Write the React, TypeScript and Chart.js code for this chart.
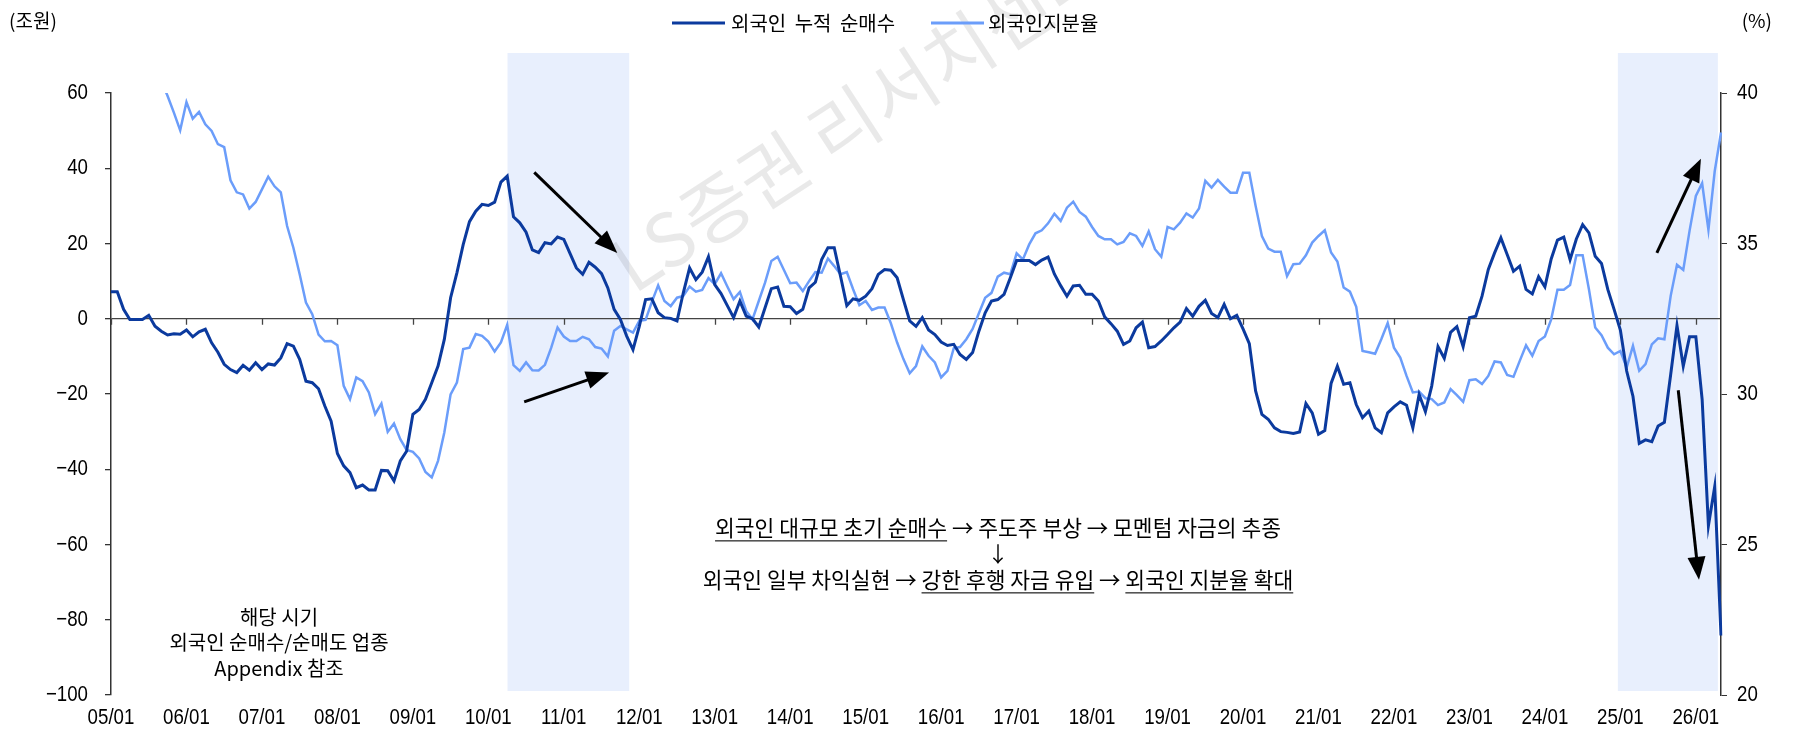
import React, { useEffect, useRef } from "react";
import { Chart, registerables } from "chart.js";

Chart.register(...registerables);

// ---------------- data ----------------
const START_YEAR = 2005;
const MONTH_COUNT = 257; // 2005/01 .. latest (partial) month
const months: string[] = [];
for (let i = 0; i < MONTH_COUNT; i++) {
  const y = START_YEAR + Math.floor(i / 12);
  const m = (i % 12) + 1;
  months.push(`${String(y % 100).padStart(2, "0")}/${String(m).padStart(2, "0")}`);
}

const xTickLabels = [
  "05/01", "06/01", "07/01", "08/01", "09/01", "10/01", "11/01", "12/01", "13/01", "14/01", "15/01",
  "16/01", "17/01", "18/01", "19/01", "20/01", "21/01", "22/01", "23/01", "24/01", "25/01", "26/01",
];

// 외국인 누적 순매수 (조원)
const foreignNetBuy = [
  7.2, 7.2, 2.5, -0.2, -0.2, -0.2, 0.9, -2.0, -3.3, -4.3, -4.0, -4.1,
  -3.0, -4.8, -3.5, -2.8, -6.4, -8.9, -12.1, -13.5, -14.3, -12.4, -13.7, -11.7,
  -13.5, -12.0, -12.3, -10.4, -6.6, -7.3, -10.8, -16.6, -17.0, -18.6, -23.2, -27.2,
  -35.8, -39.1, -40.9, -44.9, -44.2, -45.5, -45.5, -40.3, -40.4, -43.1, -37.8, -35.2,
  -25.4, -24.1, -21.4, -17.0, -12.6, -5.5, 5.6, 12.2, 19.7, 25.8, 28.6, 30.4,
  30.1, 31.0, 36.3, 37.9, 27.1, 25.5, 23.0, 18.3, 17.6, 20.2, 19.9, 21.7,
  21.1, 17.3, 13.5, 11.8, 15.0, 13.7, 12.0, 8.2, 2.5, -0.2, -4.6, -8.2,
  -2.0, 5.1, 5.3, 1.6, 0.3, 0.1, -0.6, 6.9, 13.5, 10.4, 12.4, 16.5,
  9.1, 6.7, 3.5, 0.3, 4.7, 0.7, 0.0, -2.2, 2.9, 8.0, 8.4, 3.3,
  3.2, 1.4, 2.5, 8.2, 9.7, 15.7, 18.9, 18.9, 11.3, 3.5, 5.3, 4.9,
  6.0, 8.0, 11.8, 13.1, 12.9, 10.9, 5.1, -0.6, -2.0, 0.3, -3.0, -4.2,
  -6.2, -7.1, -6.8, -9.5, -10.8, -9.0, -3.3, 1.6, 4.7, 5.1, 6.5, 10.9,
  15.5, 15.5, 15.5, 14.4, 15.6, 16.4, 11.9, 8.8, 6.0, 8.7, 8.9, 6.5,
  6.5, 4.7, 0.5, -1.3, -3.3, -6.8, -5.9, -2.4, -0.9, -7.7, -7.4, -5.9,
  -4.2, -2.4, -0.9, 2.7, 0.7, 3.3, 4.9, 1.4, 0.3, 3.8, 0.0, 0.9,
  -2.7, -6.6, -19.2, -25.4, -26.7, -29.0, -30.0, -30.2, -30.5, -30.1, -22.5, -25.0,
  -30.7, -29.7, -17.2, -12.6, -17.4, -17.0, -22.8, -26.3, -24.5, -29.0, -30.3, -25.0,
  -23.4, -22.1, -23.0, -29.0, -20.1, -24.7, -17.9, -7.4, -10.5, -3.6, -2.1, -7.4,
  0.3, 0.7, 6.0, 13.1, 17.5, 21.5, 17.1, 12.6, 14.0, 7.8, 6.6, 11.2,
  8.5, 15.9, 20.9, 21.7, 15.7, 21.2, 25.0, 22.8, 16.6, 14.7, 7.8, 2.5,
  -3.0, -13.9, -20.6, -33.1, -32.2, -32.7, -28.5, -27.5, -14.8, -1.8, -12.6, -4.8,
  -4.8, -21.4, -55.0, -44.6, -84.2,
];

// 외국인지분율 (%)
const foreignOwnership = [
  41.8, 41.6, 41.3, 41.5, 41.2, 41.0, 40.8, 40.7, 40.4, 39.9, 39.35, 38.76,
  39.7, 39.15, 39.37, 38.96, 38.74, 38.3, 38.2, 37.1, 36.7, 36.63, 36.16, 36.38,
  36.8, 37.22, 36.9, 36.7, 35.58, 34.86, 33.98, 33.04, 32.65, 31.97, 31.75, 31.76,
  31.62, 30.27, 29.83, 30.55, 30.43, 30.05, 29.33, 29.68, 28.74, 29.02, 28.5, 28.14,
  28.08, 27.86, 27.41, 27.23, 27.78, 28.72, 29.99, 30.38, 31.49, 31.54, 31.99, 31.93,
  31.74, 31.41, 31.71, 32.3, 30.96, 30.77, 31.05, 30.79, 30.78, 30.97, 31.54, 32.21,
  31.91, 31.76, 31.76, 31.9, 31.82, 31.56, 31.51, 31.25, 32.1, 32.26, 32.15, 32.04,
  32.43, 32.46, 33.06, 33.61, 33.09, 32.92, 33.2, 33.26, 33.57, 33.4, 33.46, 33.85,
  33.65, 34.01, 33.57, 33.15, 33.39, 32.76, 32.48, 33.09, 33.7, 34.42, 34.56, 34.12,
  33.68, 33.7, 33.42, 33.75, 34.05, 34.03, 34.5, 34.25, 33.98, 34.05, 33.48, 32.95,
  33.09, 32.79, 32.87, 32.87, 32.35, 31.71, 31.16, 30.69, 30.93, 31.58, 31.27, 31.05,
  30.55, 30.77, 31.52, 31.56, 31.82, 32.16, 32.68, 33.2, 33.36, 33.9, 34.03, 33.98,
  34.67, 34.47, 34.97, 35.34, 35.44, 35.67, 35.99, 35.75, 36.19, 36.39, 36.05, 35.89,
  35.55, 35.25, 35.14, 35.14, 34.97, 35.05, 35.34, 35.25, 34.92, 35.4, 34.81, 34.56,
  35.55, 35.47, 35.69, 36.0, 35.86, 36.16, 37.08, 36.86, 37.11, 36.89, 36.69, 36.69,
  37.35, 37.35, 36.25, 35.25, 34.83, 34.73, 34.73, 33.92, 34.31, 34.33, 34.61, 35.03,
  35.25, 35.44, 34.7, 34.4, 33.54, 33.4, 32.9, 31.43, 31.39, 31.34, 31.83, 32.36,
  31.54, 31.21, 30.6, 30.05, 30.08, 29.86, 29.83, 29.63, 29.72, 30.16, 29.96, 29.74,
  30.46, 30.49, 30.33, 30.6, 31.08, 31.05, 30.63, 30.57, 31.1, 31.62, 31.27, 31.76,
  31.91, 32.48, 33.46, 33.46, 33.62, 34.61, 34.61, 33.48, 32.21, 31.95, 31.54, 31.32,
  31.43, 30.88, 31.6, 30.77, 30.99, 31.65, 31.85, 31.82, 33.26, 34.29, 34.12, 35.42,
  36.58, 37.0, 35.45, 37.4, 38.69,
];

const leftAxis = { min: -100, max: 60, step: 20 };
const rightAxis = { min: 20, max: 40, step: 5 };

// shaded periods (month index on the category axis)
const shadePeriods = [
  { from: 63.05, to: 82.4 },
  { from: 239.6, to: 255.5 },
];

// arrows, in (month index, left-axis value)
const arrows = [
  { x1: 67.3, y1: 38.9, x2: 80.5, y2: 17.5 },
  { x1: 65.7, y1: -22.1, x2: 79.2, y2: -14.3 },
  { x1: 245.8, y1: 17.5, x2: 252.8, y2: 42.5 },
  { x1: 249.2, y1: -19.0, x2: 252.5, y2: -69.4 },
];

const seriesNames = ["외국인 누적 순매수", "외국인지분율"];
const leftUnit = "(조원)";
const rightUnit = "(%)";
const watermark = "LS증권 리서치센터";
const noteLines = ["해당 시기", "외국인 순매수/순매도 업종", "Appendix 참조"];
type Seg = { text: string; u?: boolean };
const flowLines: Seg[][] = [
  [{ text: "외국인 대규모 초기 순매수", u: true }, { text: " → 주도주 부상 → 모멘텀 자금의 추종" }],
  [{ text: "↓" }],
  [
    { text: "외국인 일부 차익실현 → " },
    { text: "강한 후행 자금 유입", u: true },
    { text: " → " },
    { text: "외국인 지분율 확대", u: true },
  ],
];

// ---------------- style ----------------
const W = 1801;
const H = 729;
const DARK = "#0b3a9e";
const LIGHT = "#6b9dfa";
const SHADE = "#e8effd";
const NUM_FONT = '22px "Liberation Sans", Arimo, Arial, sans-serif';
const NUM_SCALE_X = 0.85;
const KR_FONT = '"Noto Sans CJK KR", "Noto Sans", sans-serif';

function fmtNum(v: number) {
  return v < 0 ? `\u2212${Math.abs(v)}` : `${v}`;
}

function drawNarrow(ctx: CanvasRenderingContext2D, text: string, x: number, y: number, align: CanvasTextAlign) {
  ctx.save();
  ctx.translate(x, y);
  ctx.scale(NUM_SCALE_X, 1);
  ctx.textAlign = align;
  ctx.textBaseline = "middle";
  ctx.fillText(text, 0, 0);
  ctx.restore();
}

function drawArrow(ctx: CanvasRenderingContext2D, x1: number, y1: number, x2: number, y2: number) {
  const ang = Math.atan2(y2 - y1, x2 - x1);
  const headLen = 23;
  const half = 9;
  const bx = x2 - headLen * Math.cos(ang);
  const by = y2 - headLen * Math.sin(ang);
  ctx.strokeStyle = "#000";
  ctx.fillStyle = "#000";
  ctx.lineWidth = 3;
  ctx.beginPath();
  ctx.moveTo(x1, y1);
  ctx.lineTo(bx + 2 * Math.cos(ang), by + 2 * Math.sin(ang));
  ctx.stroke();
  ctx.beginPath();
  ctx.moveTo(x2, y2);
  ctx.lineTo(bx + half * Math.sin(ang), by - half * Math.cos(ang));
  ctx.lineTo(bx - half * Math.sin(ang), by + half * Math.cos(ang));
  ctx.closePath();
  ctx.fill();
}

function drawSegLine(ctx: CanvasRenderingContext2D, segs: Seg[], cx: number, y: number) {
  const widths = segs.map((s) => ctx.measureText(s.text).width);
  const total = widths.reduce((a, b) => a + b, 0);
  let x = cx - total / 2;
  segs.forEach((s, i) => {
    ctx.fillStyle = "#000";
    ctx.fillText(s.text, x, y);
    if (s.u) {
      ctx.fillStyle = "#555";
      ctx.fillRect(x, y + 12, widths[i], 1.6);
    }
    x += widths[i];
  });
}

function drawWords(ctx: CanvasRenderingContext2D, text: string, x: number, y: number, extraGap: number) {
  const words = text.split(" ");
  const sp = ctx.measureText(" ").width + extraGap;
  let cx = x;
  words.forEach((w) => {
    ctx.fillText(w, cx, y);
    cx += ctx.measureText(w).width + sp;
  });
}

const decorPlugin = {
  id: "decor",
  beforeDraw(chart: any) {
    const { ctx, chartArea, scales } = chart;
    const xs = scales.x;
    ctx.save();
    ctx.fillStyle = SHADE;
    for (const p of shadePeriods) {
      const a = xs.getPixelForValue(p.from);
      const b = xs.getPixelForValue(p.to);
      const top = chartArea.top - 40;
      const bottom = chartArea.bottom - 4;
      ctx.fillRect(a, top, b - a, bottom - top);
    }
    // watermark anchored at the glyph "증"
    ctx.font = `74px ${KR_FONT}`;
    const ang = (-33 * Math.PI) / 180;
    const pre = ctx.measureText("LS").width + ctx.measureText("증").width / 2;
    ctx.translate(716, 208);
    ctx.rotate(ang);
    ctx.fillStyle = "rgba(0,0,0,0.085)";
    ctx.textAlign = "left";
    ctx.textBaseline = "middle";
    ctx.fillText(watermark, -pre, 0);
    ctx.restore();
  },
  beforeDatasetsDraw(chart: any) {
    const { ctx, scales } = chart;
    const xs = scales.x;
    const y0 = scales.y.getPixelForValue(0);
    ctx.save();
    ctx.strokeStyle = "#444";
    ctx.lineWidth = 1.3;
    months.forEach((m, i) => {
      if (xTickLabels.includes(m)) {
        const px = Math.round(xs.getPixelForValue(i)) + 0.5;
        ctx.beginPath();
        ctx.moveTo(px, y0);
        ctx.lineTo(px, y0 + 6);
        ctx.stroke();
      }
    });
    ctx.restore();
  },
  afterDraw(chart: any) {
    const { ctx, scales } = chart;
    const xs = scales.x;
    const ys = scales.y;
    const yr = scales.y1;
    ctx.save();
    // tick labels (narrow numerals)
    ctx.fillStyle = "#000";
    ctx.font = NUM_FONT;
    ys.ticks.forEach((t: any, i: number) => drawNarrow(ctx, fmtNum(t.value), 88, ys.getPixelForTick(i), "right"));
    yr.ticks.forEach((t: any, i: number) => drawNarrow(ctx, fmtNum(t.value), 1737, yr.getPixelForTick(i), "left"));
    xs.ticks.forEach((t: any, i: number) => {
      const lab = months[t.value];
      if (xTickLabels.includes(lab)) drawNarrow(ctx, lab, xs.getPixelForTick(i), 718, "center");
    });
    // arrows
    for (const a of arrows) {
      drawArrow(
        ctx,
        xs.getPixelForValue(a.x1),
        ys.getPixelForValue(a.y1),
        xs.getPixelForValue(a.x2),
        ys.getPixelForValue(a.y2)
      );
    }
    // unit labels
    ctx.fillStyle = "#000";
    ctx.textBaseline = "middle";
    ctx.font = `19px ${KR_FONT}`;
    ctx.textAlign = "left";
    ctx.fillText(leftUnit, 9, 21);
    ctx.textAlign = "right";
    ctx.fillText(rightUnit, 1772, 21);
    // legend
    ctx.font = `20px ${KR_FONT}`;
    ctx.textAlign = "left";
    ctx.lineWidth = 3;
    ctx.strokeStyle = DARK;
    ctx.beginPath();
    ctx.moveTo(672, 23);
    ctx.lineTo(725, 23);
    ctx.stroke();
    ctx.fillStyle = "#000";
    drawWords(ctx, seriesNames[0], 731, 23, 4);
    ctx.strokeStyle = LIGHT;
    ctx.beginPath();
    ctx.moveTo(931, 23);
    ctx.lineTo(984, 23);
    ctx.stroke();
    ctx.fillText(seriesNames[1], 988, 23);
    // note (bottom-left)
    ctx.font = `20px ${KR_FONT}`;
    ctx.textAlign = "center";
    noteLines.forEach((t, i) => ctx.fillText(t, 279, 617 + i * 25.5));
    // flow text
    ctx.font = `21.5px ${KR_FONT}`;
    ctx.textAlign = "left";
    flowLines.forEach((segs, i) => drawSegLine(ctx, segs, 998, 528 + i * 26));
    ctx.restore();
  },
};

export default function App() {
  const ref = useRef<HTMLCanvasElement>(null);
  useEffect(() => {
    if (!ref.current) return;
    const chart = new Chart(ref.current, {
      type: "line",
      data: {
        labels: months,
        datasets: [
          {
            label: seriesNames[0],
            data: foreignNetBuy,
            borderColor: DARK,
            backgroundColor: DARK,
            borderWidth: 3,
            yAxisID: "y",
            pointRadius: 0,
            tension: 0,
          },
          {
            label: seriesNames[1],
            data: foreignOwnership,
            borderColor: LIGHT,
            backgroundColor: LIGHT,
            borderWidth: 2.5,
            yAxisID: "y1",
            pointRadius: 0,
            tension: 0,
          },
        ],
      },
      options: {
        responsive: false,
        animation: false,
        devicePixelRatio: 1,
        layout: { padding: { top: 93, left: 0, right: 0, bottom: 0 } },
        plugins: { legend: { display: false }, tooltip: { enabled: false } },
        scales: {
          x: {
            type: "category",
            offset: false,
            grid: { display: false, drawTicks: false },
            border: { display: false },
            ticks: { display: false, autoSkip: false, maxRotation: 0, minRotation: 0 },
            afterFit: (s: any) => {
              s.height = 34;
            },
          },
          y: {
            position: "left",
            min: leftAxis.min,
            max: leftAxis.max,
            ticks: { display: false, stepSize: leftAxis.step },
            grid: {
              color: (c: any) => (c.tick && c.tick.value === 0 ? "#444" : "rgba(0,0,0,0)"),
              lineWidth: 1.3,
              tickColor: "#333",
              tickLength: 6,
              drawOnChartArea: true,
            },
            border: { display: true, color: "#333", width: 1.5 },
            afterFit: (s: any) => {
              s.width = 111;
            },
          },
          y1: {
            position: "right",
            min: rightAxis.min,
            max: rightAxis.max,
            ticks: { display: false, stepSize: rightAxis.step },
            grid: { drawOnChartArea: false, tickColor: "#333", tickLength: 6 },
            border: { display: true, color: "#333", width: 1.5 },
            afterFit: (s: any) => {
              s.width = 80;
            },
          },
        },
      },
      plugins: [decorPlugin],
    } as any);
    return () => chart.destroy();
  }, []);
  return (
    <div style={{ position: "fixed", left: 0, top: 0, width: W, height: H, background: "#fff" }}>
      <canvas ref={ref} width={W} height={H} style={{ width: W, height: H, display: "block" }} />
    </div>
  );
}
